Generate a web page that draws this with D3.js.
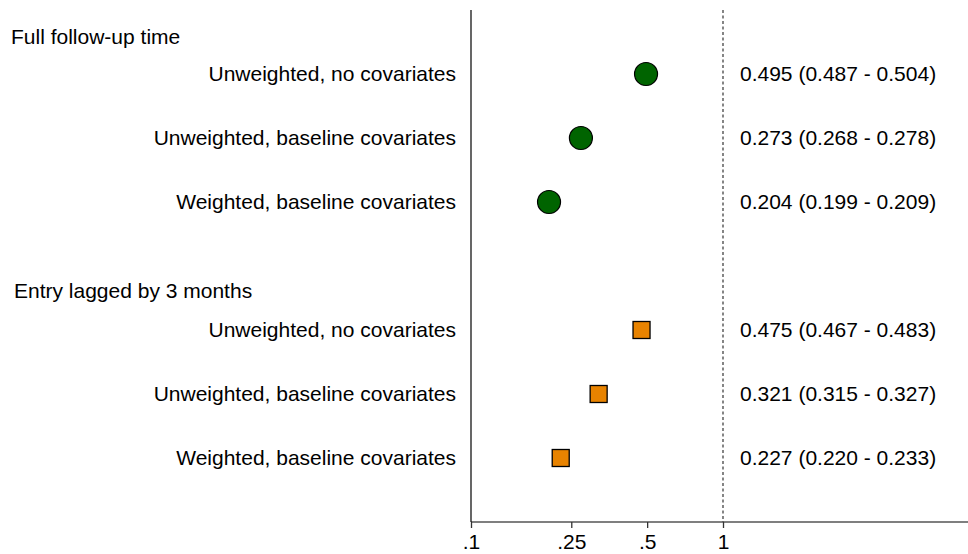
<!DOCTYPE html>
<html>
<head>
<meta charset="utf-8">
<script src="https://cdn.jsdelivr.net/npm/d3@7"></script>
<style>
  body { margin: 0; background: #fff; }
  text { font-family: "Liberation Sans", Arial, sans-serif; font-size: 21px; fill: #000; }
</style>
</head>
<body>
<div id="chart"></div>
<script>
// groups and rows of the forest plot
var groups = ["Full follow-up time", "Entry lagged by 3 months"];
var models = ["Unweighted, no covariates", "Unweighted, baseline covariates", "Weighted, baseline covariates"];
var fullEst = [0.495, 0.273, 0.204];
var fullLo = [0.487, 0.268, 0.199];
var fullHi = [0.504, 0.278, 0.209];
var lagEst = [0.475, 0.321, 0.227];
var lagLo = [0.467, 0.315, 0.220];
var lagHi = [0.483, 0.327, 0.233];
var tickVals = [0.1, 0.25, 0.5, 1];
var tickLabels = [".1", ".25", ".5", "1"];

var width = 968, height = 554;

var svg = d3.select("#chart").append("svg")
    .attr("width", width)
    .attr("height", height);

var x = d3.scaleLog().domain([0.1, 1]).range([471, 723]);
// row positions: 0..8, rows at 1-3 and 5-7
var y = d3.scaleLinear().domain([0, 8]).range([10, 522]);

var rows = [];
models.forEach(function(m, i) {
    rows.push({ group: 0, label: m, pos: i + 1, est: fullEst[i], lo: fullLo[i], hi: fullHi[i] });
});
models.forEach(function(m, i) {
    rows.push({ group: 1, label: m, pos: i + 5, est: lagEst[i], lo: lagLo[i], hi: lagHi[i] });
});

var fmt = d3.format(".3f");

// axes
svg.append("line")
    .attr("x1", x(0.1)).attr("x2", x(0.1))
    .attr("y1", y(0)).attr("y2", y(8))
    .attr("stroke", "#000").attr("stroke-width", 1.2);

svg.append("line")
    .attr("x1", x(1)).attr("x2", x(1))
    .attr("y1", y(0)).attr("y2", y(8))
    .attr("stroke", "#444").attr("stroke-width", 1.3)
    .attr("stroke-dasharray", "3,2.5");

var xAxis = svg.append("g")
    .attr("transform", "translate(0," + y(8) + ")")
    .call(d3.axisBottom(x).tickValues(tickVals)
        .tickFormat(function(d, i) { return tickLabels[i]; })
        .tickSize(6).tickPadding(5));
xAxis.select(".domain").attr("d", "M471,0H968").attr("stroke", "#000").attr("stroke-width", 1.2);
xAxis.selectAll(".tick line").attr("stroke", "#333").attr("stroke-width", 1.3);
xAxis.selectAll("text").style("font-size", "21px").attr("dy", "0.75em");

// group headings
svg.selectAll(".grp")
    .data(groups)
    .enter()
    .append("text")
    .attr("class", "grp")
    .attr("x", function(d, i) { return i === 0 ? 11 : 14; })
    .attr("y", function(d, i) { return y(i === 0 ? 0.42 : 4.39); })
    .attr("dy", "0.35em")
    .text(function(d) { return d; });

// row labels
svg.selectAll(".lab")
    .data(rows)
    .enter()
    .append("text")
    .attr("class", "lab")
    .attr("x", 456)
    .attr("y", function(d) { return y(d.pos); })
    .attr("dy", "0.35em")
    .attr("text-anchor", "end")
    .text(function(d) { return d.label; });

// estimate text
svg.selectAll(".val")
    .data(rows)
    .enter()
    .append("text")
    .attr("class", "val")
    .attr("x", 740)
    .attr("y", function(d) { return y(d.pos); })
    .attr("dy", "0.35em")
    .text(function(d) { return fmt(d.est) + " (" + fmt(d.lo) + " - " + fmt(d.hi) + ")"; });

// markers
svg.selectAll(".dot")
    .data(rows.filter(function(d) { return d.group === 0; }))
    .enter()
    .append("circle")
    .attr("cx", function(d) { return x(d.est); })
    .attr("cy", function(d) { return y(d.pos); })
    .attr("r", 11.5)
    .attr("fill", "#006400")
    .attr("stroke", "#000")
    .attr("stroke-width", 1.2);

var s = 17;
svg.selectAll(".sq")
    .data(rows.filter(function(d) { return d.group === 1; }))
    .enter()
    .append("rect")
    .attr("x", function(d) { return x(d.est) - s / 2; })
    .attr("y", function(d) { return y(d.pos) - s / 2; })
    .attr("width", s)
    .attr("height", s)
    .attr("fill", "#e88300")
    .attr("stroke", "#000")
    .attr("stroke-width", 1.3);
</script>
</body>
</html>
